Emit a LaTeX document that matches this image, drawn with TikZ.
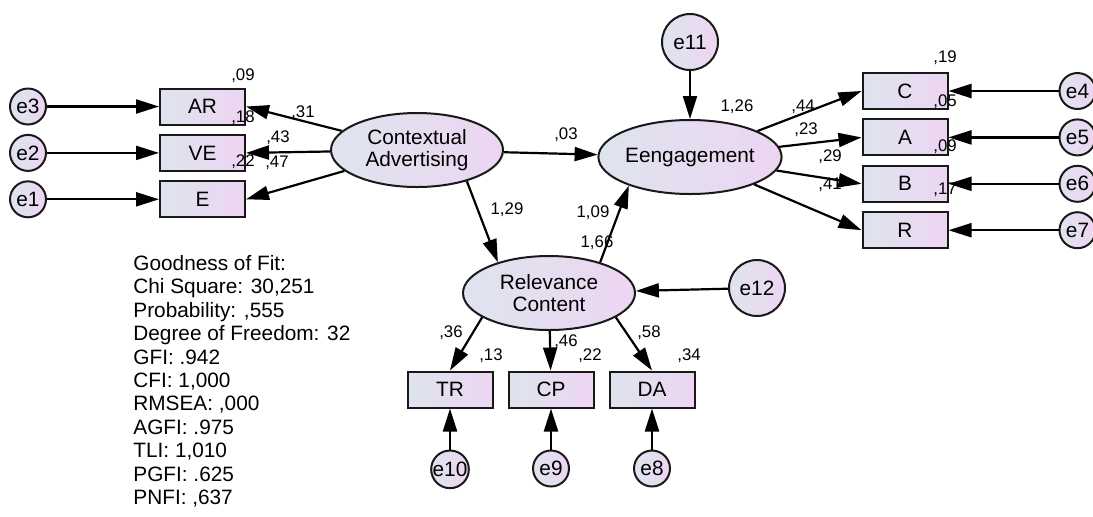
\documentclass[tikz,border=0pt]{standalone}
\usepackage{fontspec}
\setmainfont{Liberation Sans}
\usepackage{tikz}
\usetikzlibrary{arrows.meta, positioning, shapes.geometric}
\definecolor{fillleft}{RGB}{222,228,238}
\definecolor{fillright}{RGB}{237,213,242}

\begin{document}
\begin{tikzpicture}[
    x=0.5pt, y=-0.5pt,
    latent/.style={ellipse, draw=black!90, line width=1pt, left color=fillleft, right color=fillright,
                   minimum width=86pt, minimum height=37pt, inner sep=0pt, align=center,
                   font=\fontsize{10.4}{11.2}\selectfont},
    obs/.style={rectangle, draw=black!90, line width=1pt, left color=fillleft, right color=fillright,
                minimum width=42.5pt, minimum height=18pt, inner sep=0pt, font=\fontsize{10.4}{11}\selectfont},
    err/.style={circle, draw=black!90, line width=1pt, left color=fillleft, right color=fillright,
                minimum size=18pt, inner sep=0pt, font=\fontsize{10.4}{11}\selectfont},
    bigerr/.style={err, minimum size=28pt},
    arr/.style={-{Triangle[length=11.5pt, width=7pt]}, line width=1.1pt},
    coef/.style={inner sep=0pt, font=\fontsize{8.4}{9}\selectfont}
]
    \useasboundingbox (0,0) rectangle (1093,516);

    % latent variables
    \node[latent] (ca) at (417,150) {Contextual\\Advertising};
    \node[latent] (eng) at (690,157) {Eengagement};
    \node[latent] (rc) at (549,293) {Relevance\\Content};

    % indicators of Contextual Advertising
    \node[obs] (AR) at (202.5,106.5) {AR};
    \node[obs, below=4.2pt of AR] (VE) {VE};
    \node[obs, below=4.2pt of VE] (E) {E};
    \node[err, left=56pt of AR] (e3) {e3};
    \node[err, left=56pt of VE] (e2) {e2};
    \node[err, left=56pt of E] (e1) {e1};

    % indicators of Eengagement
    \node[obs] (C) at (905,91) {C};
    \node[obs, below=4.2pt of C] (A) {A};
    \node[obs, below=4.2pt of A] (B) {B};
    \node[obs, below=4.2pt of B] (R) {R};
    \node[err, right=55pt of C] (e4) {e4};
    \node[err, right=55pt of A] (e5) {e5};
    \node[err, right=55pt of B] (e6) {e6};
    \node[err, right=55pt of R] (e7) {e7};

    % indicators of Relevance Content
    \node[obs] (TR) at (450,389.5) {TR};
    \node[obs, right=7pt of TR] (CP) {CP};
    \node[obs, right=7pt of CP] (DA) {DA};
    \node[err, below=20.5pt of TR] (e10) {e10};
    \node[err, below=20.5pt of CP] (e9) {e9};
    \node[err, below=20.5pt of DA] (e8) {e8};

    % disturbances
    \node[bigerr] (e11) at (690,42) {e11};
    \node[bigerr] (e12) at (757,288) {e12};

    % paths
    \draw[arr] (e3) -- (AR); \draw[arr] (e2) -- (VE); \draw[arr] (e1) -- (E);
    \draw[arr] (ca) -- (AR.east); \draw[arr] (ca) -- (VE.east); \draw[arr] (ca) -- (E.east);
    \draw[arr] (ca) -- (eng);
    \draw[arr] (ca.-32) -- (rc.149);
    \draw[arr] (rc.31) -- (eng.205);
    \draw[arr] (e11) -- (eng);
    \draw[arr] (e12) -- (rc);
    \draw[arr] (eng) -- (C.west); \draw[arr] (eng) -- (A.west);
    \draw[arr] (eng) -- (B.west); \draw[arr] (eng) -- (R.west);
    \draw[arr] (e4) -- (C); \draw[arr] (e5) -- (A); \draw[arr] (e6) -- (B); \draw[arr] (e7) -- (R);
    \draw[arr] (rc.200) -- (TR.north); \draw[arr] (rc) -- (CP); \draw[arr] (rc.-20) -- (DA.north);
    \draw[arr] (e10) -- (TR); \draw[arr] (e9) -- (CP); \draw[arr] (e8) -- (DA);

    % estimates
    \node[coef] (sAR) at (243,76) {,09};
    \node[coef] (sVE) at (243,118) {,18};
    \node[coef] (sE) at (243,162) {,22};
    \node[coef] (wAR) at (303,113) {,31};
    \node[coef] (wVE) at (278,138) {,43};
    \node[coef] (wE) at (277,163) {,47};
    \node[coef] (wce) at (566,135) {,03};
    \node[coef] (wcr) at (507,210) {1,29};
    \node[coef] (wre) at (593,213) {1,09};
    \node[coef] (src) at (597,243) {1,66};
    \node[coef] (seng) at (737,107) {1,26};
    \node[coef] (wC) at (803,107) {,44};
    \node[coef] (wA) at (806,130) {,23};
    \node[coef] (wB) at (830,157) {,29};
    \node[coef] (wR) at (830,185) {,41};
    \node[coef] (sC) at (945,58) {,19};
    \node[coef] (sA) at (945,102) {,05};
    \node[coef] (sB) at (945,147) {,09};
    \node[coef] (sR) at (945,190) {,17};
    \node[coef] (wTR) at (451,333) {,36};
    \node[coef] (wCP) at (566,342) {,46};
    \node[coef] (wDA) at (649,333) {,58};
    \node[coef] (sTR) at (491,356) {,13};
    \node[coef] (sCP) at (590,356) {,22};
    \node[coef] (sDA) at (689,356) {,34};

    % fit statistics
    \node[anchor=north west, align=left, inner sep=0pt, font=\fontsize{10.4}{11.7}\selectfont] (fit) at (133,255)
        {Goodness of Fit:\\Chi Square: 30,251\\Probability: ,555\\Degree of Freedom: 32\\GFI: .942\\CFI: 1,000\\
         RMSEA: ,000\\AGFI: .975\\TLI: 1,010\\PGFI: .625\\PNFI: ,637};
\end{tikzpicture}
\end{document}
